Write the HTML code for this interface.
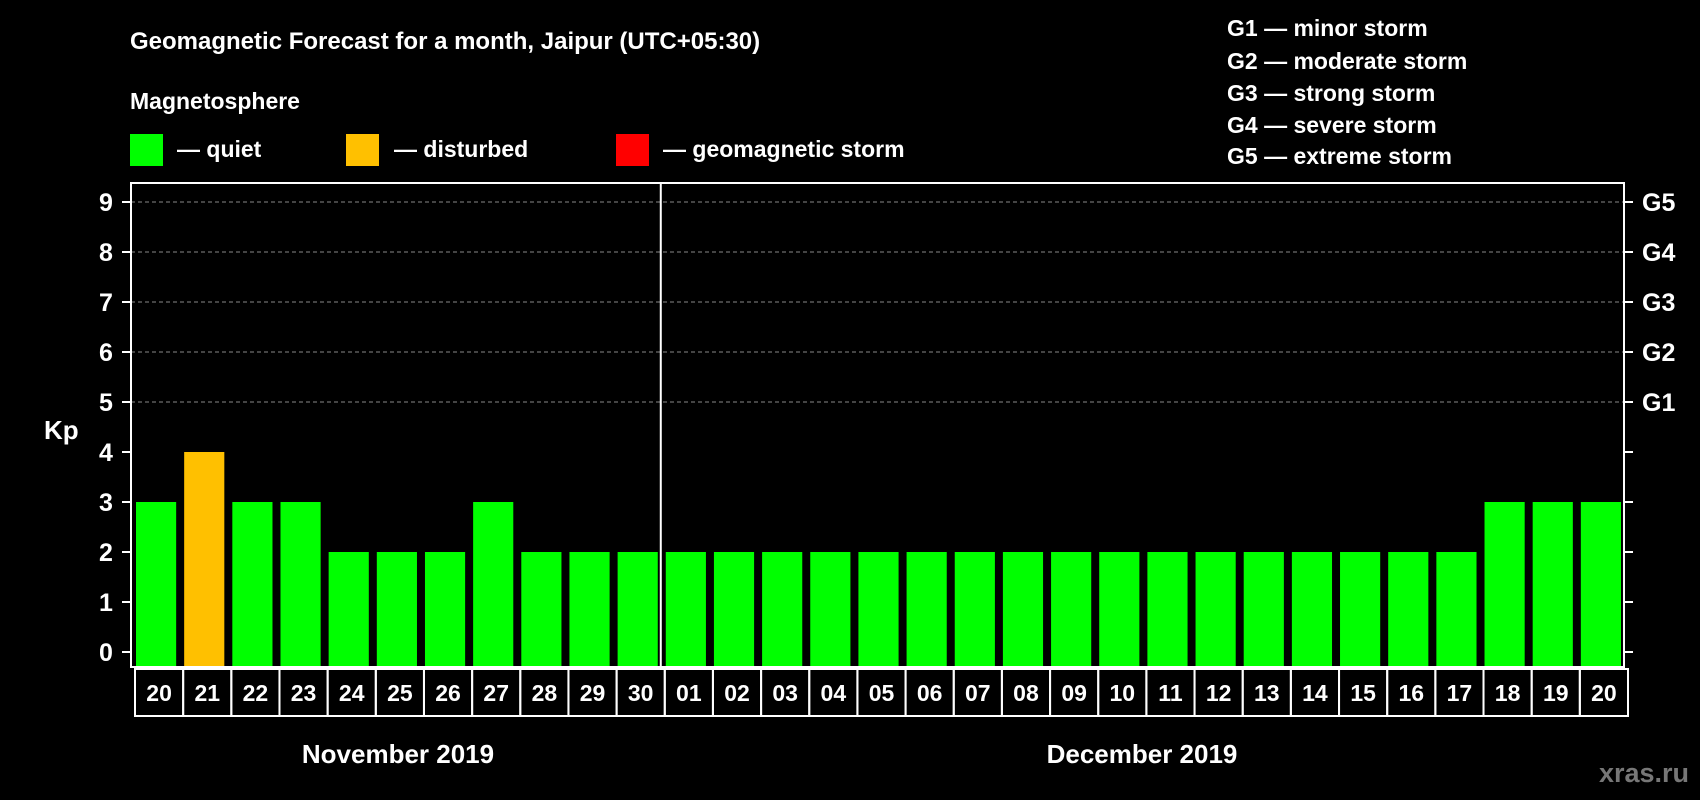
<!DOCTYPE html>
<html><head><meta charset="utf-8"><style>
html,body{margin:0;padding:0;background:#000;width:1700px;height:800px;overflow:hidden}
svg{display:block}
text{font-family:"Liberation Sans",sans-serif;font-weight:bold;fill:#fff}
</style></head><body>
<svg id="chart" width="1700" height="800">
<text x="130" y="49" font-size="24">Geomagnetic Forecast for a month, Jaipur (UTC+05:30)</text>
<text x="130" y="109" font-size="23">Magnetosphere</text>
<g><rect x="130" y="134" width="33" height="32" fill="#00ff00"/><text x="177" y="157" font-size="23">— quiet</text></g>
<g><rect x="346" y="134" width="33" height="32" fill="#ffc000"/><text x="394" y="157" font-size="23">— disturbed</text></g>
<g><rect x="616" y="134" width="33" height="32" fill="#ff0000"/><text x="663" y="157" font-size="23">— geomagnetic storm</text></g>
<g font-size="23">
<text x="1227" y="36">G1 — minor storm</text>
<text x="1227" y="69">G2 — moderate storm</text>
<text x="1227" y="101">G3 — strong storm</text>
<text x="1227" y="133">G4 — severe storm</text>
<text x="1227" y="164">G5 — extreme storm</text>
</g>
<text x="44" y="439" font-size="26">Kp</text>
<g id="grid"></g><g id="bars"></g><g id="axes"></g><g id="labels"></g>
<text x="398" y="763" font-size="26" text-anchor="middle">November 2019</text>
<text x="1142" y="763" font-size="26" text-anchor="middle">December 2019</text>
<text x="1689" y="782" font-size="27" text-anchor="end" style="fill:#777">xras.ru</text>
</svg>
<script>
const days = ["20","21","22","23","24","25","26","27","28","29","30","01","02","03","04","05","06","07","08","09","10","11","12","13","14","15","16","17","18","19","20"];
const kpValues = [3,4,3,3,2,2,2,3,2,2,2,2,2,2,2,2,2,2,2,2,2,2,2,2,2,2,2,2,3,3,3];
const yTicks = [0,1,2,3,4,5,6,7,8,9];
const gLabels = ["G1","G2","G3","G4","G5"];
const monthSplit = 11;
const NS="http://www.w3.org/2000/svg";
const L=131,R=1624,T=183,B=667,Y0=652,UNIT=50;
const pitch=(R-L)/days.length;
const yS=v=>Y0-v*UNIT;
const xS=i=>L+i*pitch;
function mk(tag,attrs,parent){const e=document.createElementNS(NS,tag);for(const k in attrs)e.setAttribute(k,attrs[k]);parent.appendChild(e);return e;}
const grid=document.getElementById('grid'),bars=document.getElementById('bars'),axes=document.getElementById('axes'),labels=document.getElementById('labels');
yTicks.forEach(v=>{
  if(v>=5){const g=mk('line',{x1:L,x2:R,y1:yS(v),y2:yS(v),stroke:'#888','stroke-dasharray':'4,3','stroke-width':1},grid);
  
  }
  const t=mk('line',{x1:L-9,x2:L,y1:yS(v),y2:yS(v),stroke:'#fff','stroke-width':2},axes);
  
  
  const t2=mk('line',{x1:R,x2:R+9,y1:yS(v),y2:yS(v),stroke:'#fff','stroke-width':2},axes);
  
  
  const lb=mk('text',{x:106,y:yS(v)+9,'font-size':25,'text-anchor':'middle'},axes);lb.textContent=v;
  
  
});
gLabels.forEach((g,i)=>{
  const lb=mk('text',{x:1642,y:yS(5+i)+9,'font-size':25},axes);lb.textContent=g;
  
  
});
kpValues.forEach((v,i)=>{
  const col=v>=5?'#ff0000':(v>=4?'#ffc000':'#00ff00');
  const r=mk('rect',{x:xS(i)+5,y:yS(v),width:pitch-8,height:B-yS(v)+0.5-1,fill:col},bars);
  
  
});
const fr=mk('rect',{x:L,y:T,width:R-L,height:B-T,fill:'none',stroke:'#fff','stroke-width':2},axes);


const sp=mk('line',{x1:xS(monthSplit),x2:xS(monthSplit),y1:T,y2:B,stroke:'#fff','stroke-width':2},axes);


days.forEach((d,i)=>{
  const c=mk('rect',{x:xS(i)+4,y:669,width:pitch,height:47,fill:'none',stroke:'#fff','stroke-width':2},labels);
  
  
  const t=mk('text',{x:xS(i)+4+pitch/2,y:701,'font-size':23,'text-anchor':'middle'},labels);t.textContent=d;
  
  
});
</script>
</body></html>
